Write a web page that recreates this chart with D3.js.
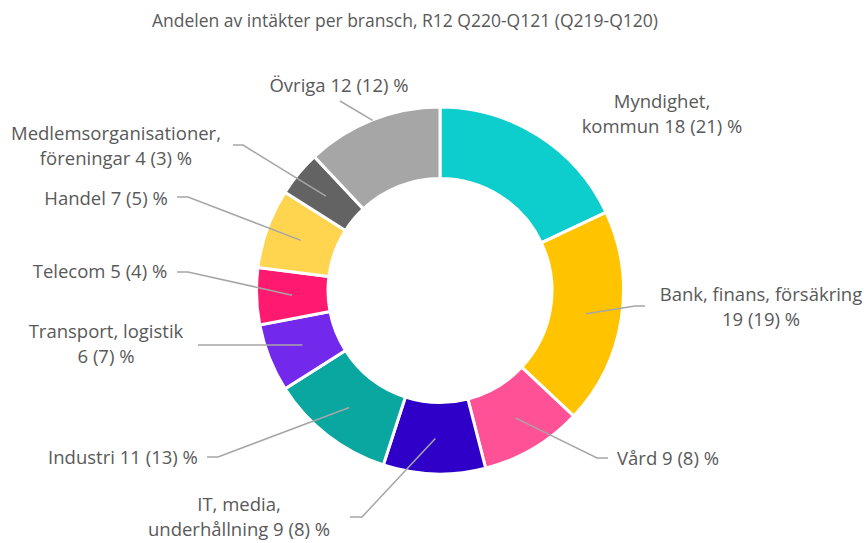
<!DOCTYPE html>
<html>
<head>
<meta charset="utf-8">
<script src="https://cdn.jsdelivr.net/npm/d3@7"></script>
<style>
  body { margin: 0; background: #fff; }
  svg text { font-family: "Open Sans", sans-serif; fill: #595959; }
</style>
</head>
<body>
<div id="corpo"></div>
<script>
// andelar i procent, R12 Q220-Q121 och (Q219-Q120)
var categories = ["Myndighet, kommun", "Bank, finans, försäkring", "Vård", "IT, media, underhållning",
    "Industri", "Transport, logistik", "Telecom", "Handel", "Medlemsorganisationer, föreningar", "Övriga"];
var values = [18, 19, 9, 9, 11, 6, 5, 7, 4, 12];
var previous = [21, 19, 8, 8, 13, 7, 4, 5, 3, 12];
// etikettrader (sista raden får "värde (föreg) %")
var labelLines = [
    ["Myndighet,", "kommun"],
    ["Bank, finans, försäkring", ""],
    ["Vård"],
    ["IT, media,", "underhållning"],
    ["Industri"],
    ["Transport, logistik", ""],
    ["Telecom"],
    ["Handel"],
    ["Medlemsorganisationer,", "föreningar"],
    ["Övriga"]
];
var colors = ["#0ecdcd", "#ffc300", "#ff5196", "#2e00c8", "#0aa7a1", "#7229ec", "#ff1a70", "#ffd54f", "#636363", "#a6a6a6"];

// manuellt placerade etiketter (textmitt x, första baslinje y, ledarlinjens ände, stubb)
var labelLayout = [
    {x: 662, y: 108, lead: null},
    {x: 761, y: 301, lead: [645, 306], stub: -10, r: 148},
    {x: 668, y: 465, lead: [608, 458], stub: -11, r: 148},
    {x: 239, y: 511, lead: [350, 517], stub: 12, r: 148},
    {x: 123, y: 464, lead: [207, 457], stub: 11, r: 148},
    {x: 106, y: 338, lead: [198, 345], stub: 11, r: 148},
    {x: 100, y: 278, lead: [177, 272], stub: 11, r: 148},
    {x: 106, y: 205, lead: [177, 197], stub: 11, r: 148},
    {x: 116, y: 140, lead: [233, 145], stub: 10, r: 148},
    {x: 339, y: 92, lead: [340, 101], stub: 0, r: 183}
];

var width = 864, height = 543;
var cx = 440, cy = 290.5;
var outerR = 183.5, innerR = 112;

var svg = d3.select("#corpo").append("svg")
    .attr("width", width)
    .attr("height", height);

svg.append("text")
    .attr("x", 405)
    .attr("y", 27)
    .attr("text-anchor", "middle")
    .style("font-size", "17.5px")
    .text("Andelen av intäkter per bransch, R12 Q220-Q121 (Q219-Q120)");

var data = categories.map(function(c, i) {
    return {tipo: c, valor: values[i], prev: previous[i], i: i};
});

var pie = d3.pie()
    .sort(null)
    .value(function(d) { return d.valor; })(data);

var arc = d3.arc()
    .outerRadius(outerR)
    .innerRadius(innerR);

var g = svg.append("g")
    .attr("transform", "translate(" + cx + "," + cy + ")");

g.selectAll(".arc")
    .data(pie)
    .enter().append("path")
    .attr("class", "arc")
    .attr("d", arc)
    .style("fill", function(d) { return colors[d.data.i]; })
    .style("stroke", "#fff")
    .style("stroke-width", 3)
    .style("stroke-linejoin", "miter");

// ledarlinjer
pie.forEach(function(d) {
    var lay = labelLayout[d.data.i];
    if (!lay.lead) return;
    var a = (d.startAngle + d.endAngle) / 2;
    var px = cx + lay.r * Math.sin(a), py = cy - lay.r * Math.cos(a);
    var pts = [[lay.lead[0], lay.lead[1]], [lay.lead[0] + lay.stub, lay.lead[1]], [px, py]];
    svg.append("path")
        .attr("d", d3.line()(pts))
        .style("fill", "none")
        .style("stroke", "#a6a6a6")
        .style("stroke-width", 1.5);
});

// etiketter
pie.forEach(function(d) {
    var lay = labelLayout[d.data.i];
    var lines = labelLines[d.data.i].slice();
    var tail = d.data.valor + " (" + d.data.prev + ") %";
    var last = lines.length - 1;
    lines[last] = lines[last] === "" ? tail : lines[last] + " " + tail;
    var t = svg.append("text")
        .attr("text-anchor", "middle")
        .style("font-size", "18.5px");
    lines.forEach(function(l, k) {
        t.append("tspan")
            .attr("x", lay.x)
            .attr("y", lay.y + k * 25)
            .text(l);
    });
});
</script>
</body>
</html>
